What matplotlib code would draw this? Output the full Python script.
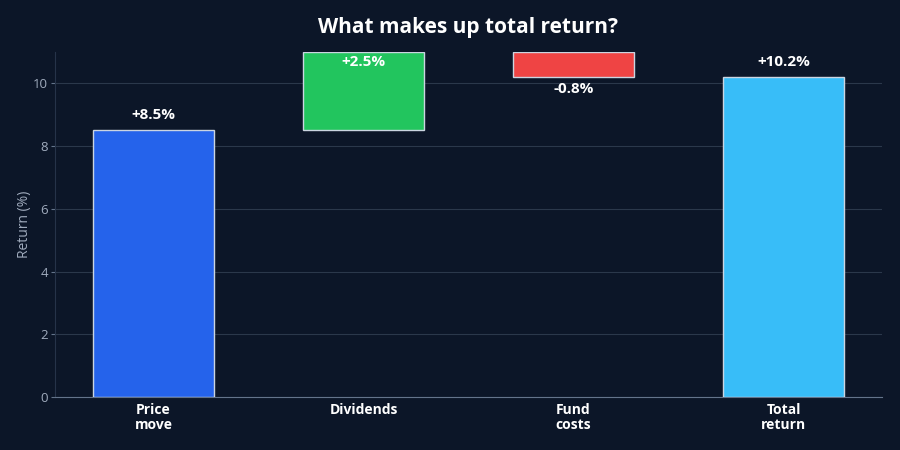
import matplotlib
matplotlib.use("Agg")
import matplotlib.pyplot as plt

categories = ["Price\nmove", "Dividends", "Fund\ncosts", "Total\nreturn"]
changes = [8.5, 2.5, -0.8, 10.2]
is_total = [False, False, False, True]
labels = ["+8.5%", "+2.5%", "-0.8%", "+10.2%"]
colors = ["#2563eb", "#22c55e", "#ef4444", "#38bdf8"]
y_ticks = [0, 2, 4, 6, 8, 10]
y_max = 11

plt.rcParams['font.family'] = ['Open Sans', 'DejaVu Sans']

bg = "#0c1628"
fig = plt.figure(figsize=(9, 4.5), dpi=100, facecolor=bg)
ax = fig.add_axes([0.0611, 0.1178, 0.9189, 0.7666])
ax.set_facecolor(bg)

bottoms, heights = [], []
running = 0.0
for c, t in zip(changes, is_total):
    if t:
        bottoms.append(0.0)
        heights.append(c)
    else:
        bottoms.append(running if c >= 0 else running + c)
        heights.append(abs(c))
        running += c

x = list(range(len(categories)))
ax.bar(x, heights, bottom=bottoms, width=0.576, color=colors,
       edgecolor="#cbd5e1", linewidth=1.0, zorder=3)

for xi, b, h, c, lab in zip(x, bottoms, heights, changes, labels):
    top = b + h
    if c >= 0:
        if top + 0.5 > y_max:
            ax.annotate(lab, (xi, top), xytext=(0, -2.5), textcoords="offset points",
                        ha="center", va="top", color="white", fontsize=11,
                        fontweight="bold", zorder=4)
        else:
            ax.annotate(lab, (xi, top), xytext=(0, 6), textcoords="offset points",
                        ha="center", va="bottom", color="white", fontsize=11,
                        fontweight="bold", zorder=4)
    else:
        ax.annotate(lab, (xi, b), xytext=(0, -3.5), textcoords="offset points",
                    ha="center", va="top", color="white", fontsize=11,
                    fontweight="bold", zorder=4)

ax.set_xlim(-0.469, 3.469)
ax.set_ylim(0, y_max)
ax.set_yticks(y_ticks)
ax.set_xticks(x)
ax.set_xticklabels(categories, color="white", fontsize=10, fontweight="bold",
                   linespacing=1.15)
ax.tick_params(axis="x", length=0, pad=4)
ax.tick_params(axis="y", labelsize=9.5, length=3, color="#64748b",
               labelcolor="#a0abbd", pad=2)
ax.grid(axis="y", color="#334155", linewidth=0.8, alpha=0.8, zorder=0)
ax.set_axisbelow(True)
for s in ["top", "right"]:
    ax.spines[s].set_visible(False)
ax.spines["left"].set_color("#263349")
ax.spines["bottom"].set_color("#64748b")
ax.set_ylabel("Return (%)", color="#a0abbd", fontsize=10, labelpad=1)
ax.set_title("What makes up total return?", color="white", fontsize=15,
             fontweight="bold", pad=14)

fig.savefig("out.png", dpi=100, facecolor=bg)
